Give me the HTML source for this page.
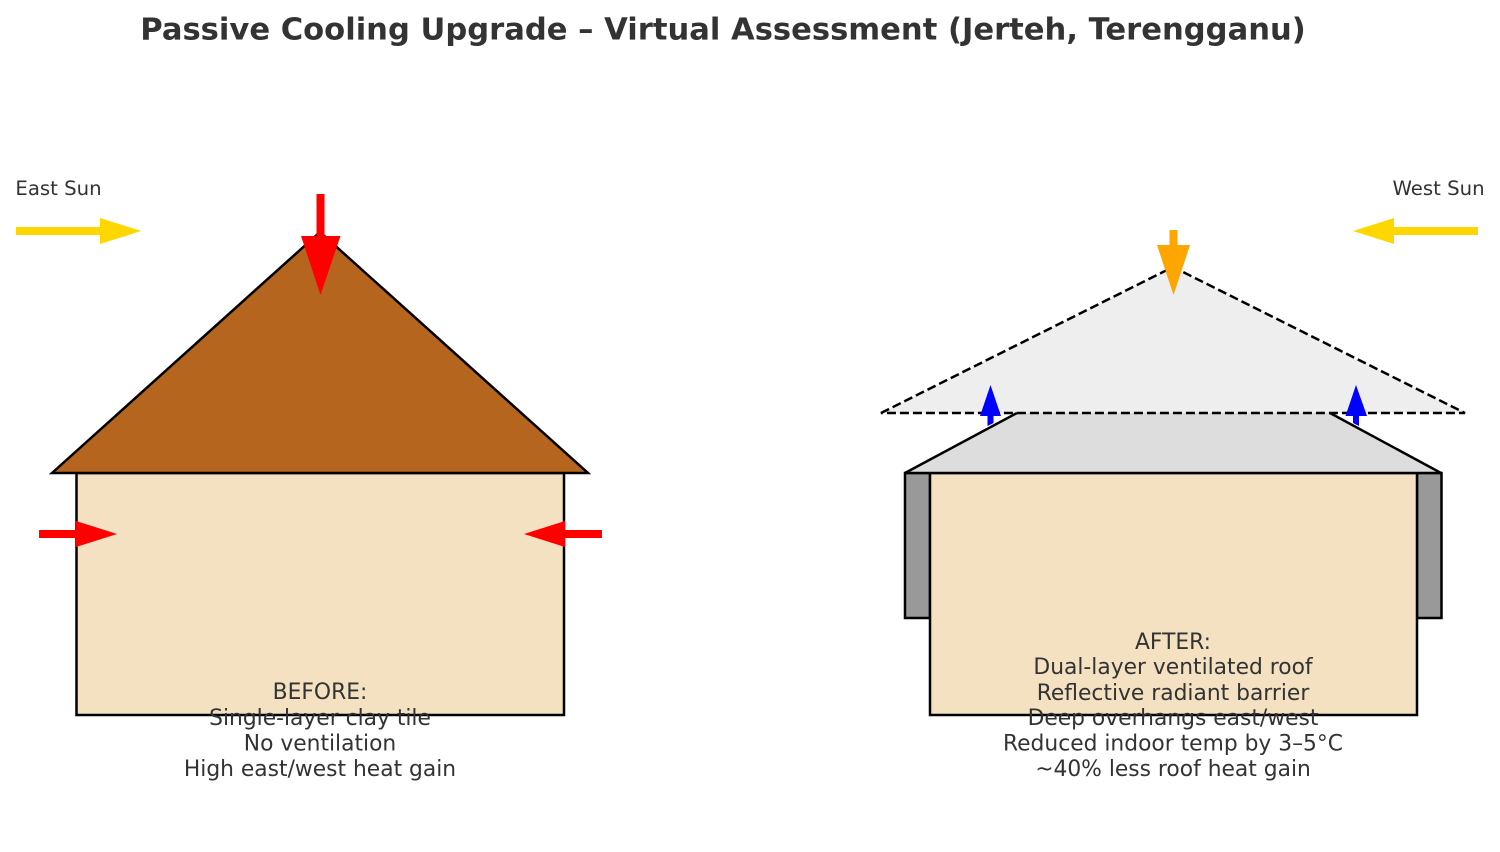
<!DOCTYPE html>
<html>
<head>
<meta charset="utf-8">
<style>
html,body{margin:0;padding:0;background:#fff;width:1500px;height:852px;overflow:hidden}
svg{display:block}
text{font-family:"DejaVu Sans",sans-serif;fill:#333;text-anchor:middle}
</style>
</head>
<body>
<svg width="1500" height="852" viewBox="0 0 1500 852" xmlns="http://www.w3.org/2000/svg">
<rect width="1500" height="852" fill="#fff"/>
<text x="723" y="39.500" font-size="30.6" font-weight="bold">Passive Cooling Upgrade – Virtual Assessment (Jerteh, Terengganu)</text>

<!-- Before house -->
<rect x="76.500" y="473" width="487.500" height="242" fill="#f4e1c1" stroke="#000" stroke-width="2.5"/>
<polygon points="52,473 320,232 588,473" fill="#b5651d" stroke="#000" stroke-width="2.5"/>
<polygon points="316.500,194 324.500,194 324.500,236 340.500,236 320.500,295 301,236 316.500,236" fill="#f00"/>
<polygon points="39,530 76,530 76,521 117,534 76,547 76,538 39,538" fill="#f00"/>
<polygon points="602,530 565,530 565,521 524,534 565,547 565,538 602,538" fill="#f00"/>

<!-- Sun arrows -->
<polygon points="16,227 100,227 100,218 141,231 100,244 100,235 16,235" fill="#ffd700"/>
<polygon points="1478,227 1394,227 1394,218 1353,231 1394,244 1394,235 1478,235" fill="#ffd700"/>
<text x="58.500" y="195" font-size="19.7">East Sun</text>
<text x="1438.500" y="195" font-size="19.7">West Sun</text>

<!-- After house -->
<rect x="905" y="473" width="25" height="145" fill="#999" stroke="#000" stroke-width="2.5"/>
<rect x="1417" y="473" width="24.500" height="145" fill="#999" stroke="#000" stroke-width="2.5"/>
<rect x="930" y="473" width="487" height="242" fill="#f4e1c1" stroke="#000" stroke-width="2.5"/>
<polygon points="881,413 1173,267 1465,413" fill="#eee"/>
<polygon points="905,473 1017,413 1330,413 1441,473" fill="#ddd"/>
<polyline points="905,473 1017,413" fill="none" stroke="#000" stroke-width="2.500"/>
<polyline points="1330,413 1441,473" fill="none" stroke="#000" stroke-width="2.500"/>
<line x1="905" y1="473" x2="1441" y2="473" stroke="#000" stroke-width="2.500"/>
<polygon points="881,413 1173,267 1465,413" fill="none" stroke="#000" stroke-width="2.500" stroke-dasharray="9 4"/>
<polygon points="987.500,426 993.500,423 993.500,416 1001,416 990.500,385 980,416 987.500,416" fill="#00f"/>
<polygon points="1353,423 1359,426 1359,416 1367,416 1356,385 1345.500,416 1353,416" fill="#00f"/>
<polygon points="1169.500,230 1177.500,230 1177.500,245 1190,245 1173.500,295 1157,245 1169.500,245" fill="#ffa500"/>

<!-- Labels -->
<g font-size="21.8">
<text x="320" y="699">BEFORE:</text>
<text x="320" y="725">Single-layer clay tile</text>
<text x="320" y="750.500">No ventilation</text>
<text x="320" y="776">High east/west heat gain</text>
<text x="1173" y="649">AFTER:</text>
<text x="1173" y="674">Dual-layer ventilated roof</text>
<text x="1173" y="700">Reflective radiant barrier</text>
<text x="1173" y="725">Deep overhangs east/west</text>
<text x="1173" y="750.500">Reduced indoor temp by 3–5°C</text>
<text x="1173" y="776">~40% less roof heat gain</text>
</g>
</svg>
</body>
</html>
